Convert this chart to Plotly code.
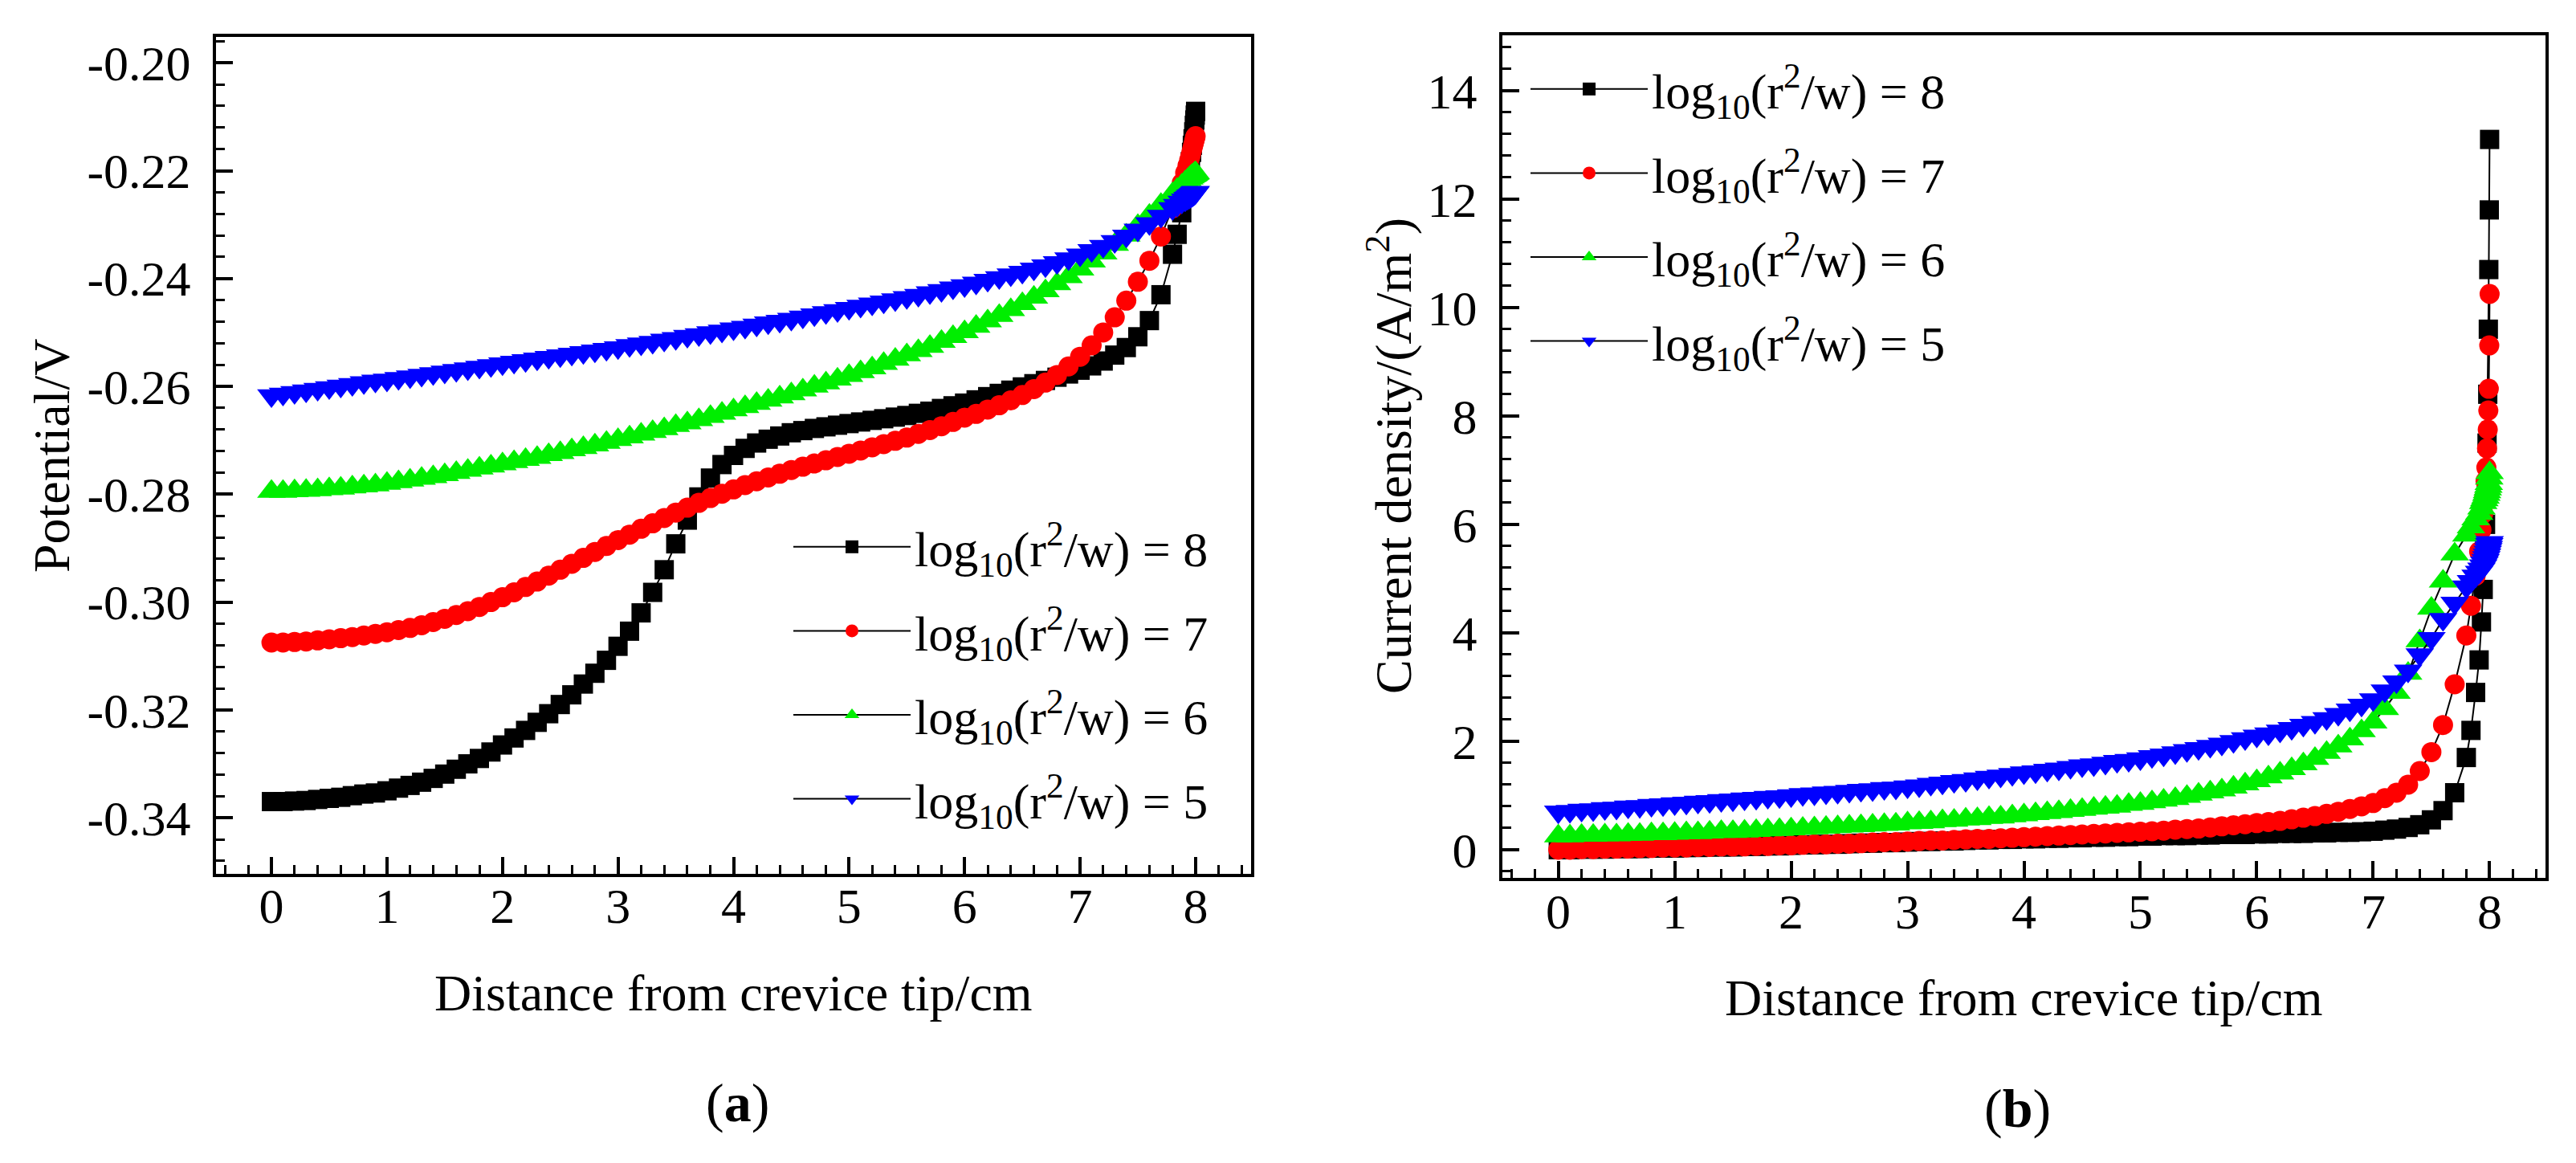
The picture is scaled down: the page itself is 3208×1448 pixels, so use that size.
import plotly.graph_objects as go

# 网格：0~7.8 每 0.1 一点，缝口附近加密
X_GRID = [
    0.0, 0.1, 0.2, 0.3, 0.4, 0.5, 0.6, 0.7, 0.8, 0.9,
    1.0, 1.1, 1.2, 1.3, 1.4, 1.5, 1.6, 1.7, 1.8, 1.9,
    2.0, 2.1, 2.2, 2.3, 2.4, 2.5, 2.6, 2.7, 2.8, 2.9,
    3.0, 3.1, 3.2, 3.3, 3.4, 3.5, 3.6, 3.7, 3.8, 3.9,
    4.0, 4.1, 4.2, 4.3, 4.4, 4.5, 4.6, 4.7, 4.8, 4.9,
    5.0, 5.1, 5.2, 5.3, 5.4, 5.5, 5.6, 5.7, 5.8, 5.9,
    6.0, 6.1, 6.2, 6.3, 6.4, 6.5, 6.6, 6.7, 6.8, 6.9,
    7.0, 7.1, 7.2, 7.3, 7.4, 7.5, 7.6, 7.7, 7.8,
    7.84, 7.88, 7.91, 7.93, 7.945, 7.955, 7.965, 7.972, 7.978, 7.984,
    7.989, 7.993, 7.997, 8.0,
]

# (a) 电位 / V
POT_8 = [
    -0.3370, -0.3370, -0.3369, -0.3368, -0.3366, -0.3364, -0.3362, -0.3359, -0.3356, -0.3354,
    -0.3350, -0.3345, -0.3340, -0.3334, -0.3327, -0.3319, -0.3310, -0.3300, -0.3290, -0.3278,
    -0.3265, -0.3252, -0.3238, -0.3223, -0.3207, -0.3190, -0.3172, -0.3152, -0.3132, -0.3108,
    -0.3082, -0.3054, -0.3020, -0.2982, -0.2940, -0.2892, -0.2848, -0.2805, -0.2770, -0.2745,
    -0.2728, -0.2715, -0.2705, -0.2698, -0.2692, -0.2686, -0.2682, -0.2678, -0.2675, -0.2672,
    -0.2669, -0.2666, -0.2663, -0.2660, -0.2657, -0.2654, -0.2650, -0.2646, -0.2641, -0.2636,
    -0.2631, -0.2625, -0.2619, -0.2613, -0.2607, -0.2601, -0.2595, -0.2589, -0.2583, -0.2577,
    -0.2570, -0.2562, -0.2553, -0.2542, -0.2528, -0.2508, -0.2478, -0.2430, -0.2355,
    -0.2318, -0.2278, -0.2245, -0.2220, -0.2198, -0.2183, -0.2166, -0.2153, -0.2141, -0.2128,
    -0.2116, -0.2106, -0.2097, -0.2090,
]
POT_7 = [
    -0.3075, -0.3075, -0.3074, -0.3073, -0.3071, -0.3069, -0.3067, -0.3065, -0.3062, -0.3059,
    -0.3056, -0.3052, -0.3048, -0.3043, -0.3037, -0.3031, -0.3024, -0.3017, -0.3009, -0.3000,
    -0.2991, -0.2982, -0.2972, -0.2962, -0.2951, -0.2940, -0.2929, -0.2918, -0.2907, -0.2896,
    -0.2885, -0.2875, -0.2864, -0.2854, -0.2844, -0.2834, -0.2825, -0.2816, -0.2807, -0.2799,
    -0.2791, -0.2783, -0.2776, -0.2769, -0.2762, -0.2755, -0.2749, -0.2743, -0.2737, -0.2731,
    -0.2725, -0.2719, -0.2713, -0.2707, -0.2701, -0.2695, -0.2688, -0.2681, -0.2674, -0.2666,
    -0.2658, -0.2651, -0.2643, -0.2635, -0.2626, -0.2616, -0.2605, -0.2593, -0.2579, -0.2563,
    -0.2545, -0.2524, -0.2500, -0.2472, -0.2441, -0.2406, -0.2367, -0.2322, -0.2270,
    -0.2247, -0.2223, -0.2204, -0.2191, -0.2180, -0.2173, -0.2165, -0.2159, -0.2154, -0.2149,
    -0.2145, -0.2141, -0.2138, -0.2136,
]
POT_6 = [
    -0.2795, -0.2795, -0.2794, -0.2793, -0.2792, -0.2790, -0.2789, -0.2787, -0.2785, -0.2783,
    -0.2780, -0.2777, -0.2774, -0.2771, -0.2768, -0.2764, -0.2760, -0.2756, -0.2752, -0.2748,
    -0.2744, -0.2740, -0.2736, -0.2732, -0.2727, -0.2723, -0.2718, -0.2714, -0.2709, -0.2704,
    -0.2699, -0.2694, -0.2689, -0.2684, -0.2679, -0.2673, -0.2668, -0.2662, -0.2656, -0.2650,
    -0.2644, -0.2638, -0.2632, -0.2626, -0.2620, -0.2614, -0.2607, -0.2600, -0.2594, -0.2587,
    -0.2580, -0.2573, -0.2566, -0.2558, -0.2550, -0.2542, -0.2534, -0.2526, -0.2517, -0.2508,
    -0.2499, -0.2489, -0.2479, -0.2469, -0.2458, -0.2447, -0.2435, -0.2423, -0.2410, -0.2397,
    -0.2383, -0.2368, -0.2353, -0.2337, -0.2320, -0.2302, -0.2283, -0.2263, -0.2243,
    -0.2235, -0.2227, -0.2221, -0.2217, -0.2214, -0.2212, -0.2210, -0.2209, -0.2208, -0.2207,
    -0.2206, -0.2205, -0.2205, -0.2204,
]
POT_5 = [
    -0.2617, -0.2614, -0.2611, -0.2608, -0.2605, -0.2602, -0.2599, -0.2596, -0.2593, -0.2590,
    -0.2588, -0.2585, -0.2582, -0.2579, -0.2576, -0.2573, -0.2570, -0.2567, -0.2564, -0.2561,
    -0.2558, -0.2555, -0.2552, -0.2549, -0.2546, -0.2543, -0.2540, -0.2537, -0.2534, -0.2531,
    -0.2528, -0.2524, -0.2521, -0.2518, -0.2514, -0.2511, -0.2507, -0.2504, -0.2500, -0.2497,
    -0.2493, -0.2490, -0.2486, -0.2482, -0.2479, -0.2475, -0.2471, -0.2467, -0.2463, -0.2459,
    -0.2455, -0.2451, -0.2447, -0.2443, -0.2439, -0.2435, -0.2431, -0.2426, -0.2422, -0.2417,
    -0.2413, -0.2408, -0.2403, -0.2398, -0.2393, -0.2388, -0.2382, -0.2376, -0.2370, -0.2363,
    -0.2356, -0.2348, -0.2340, -0.2331, -0.2321, -0.2310, -0.2298, -0.2284, -0.2270,
    -0.2264, -0.2258, -0.2254, -0.2251, -0.2249, -0.2247, -0.2246, -0.2245, -0.2244, -0.2243,
    -0.2242, -0.2241, -0.2241, -0.2240,
]

# (b) 电流密度 / (A/m2)
CUR_8 = [
    0.00, 0.00, 0.01, 0.01, 0.01, 0.02, 0.02, 0.02, 0.03, 0.03,
    0.03, 0.04, 0.04, 0.05, 0.05, 0.05, 0.06, 0.06, 0.07, 0.07,
    0.08, 0.09, 0.09, 0.10, 0.10, 0.11, 0.12, 0.12, 0.13, 0.13,
    0.14, 0.15, 0.15, 0.16, 0.16, 0.17, 0.18, 0.18, 0.19, 0.19,
    0.20, 0.20, 0.21, 0.21, 0.22, 0.22, 0.23, 0.23, 0.24, 0.24,
    0.25, 0.25, 0.26, 0.26, 0.26, 0.27, 0.27, 0.28, 0.28, 0.28,
    0.29, 0.29, 0.30, 0.30, 0.30, 0.31, 0.31, 0.32, 0.32, 0.33,
    0.34, 0.36, 0.38, 0.41, 0.46, 0.55, 0.72, 1.05, 1.70,
    2.20, 2.90, 3.50, 4.20, 4.80, 5.50, 6.00, 6.70, 7.50, 8.40,
    9.60, 10.70, 11.80, 13.10,
]
CUR_7 = [
    0.00, 0.00, 0.01, 0.01, 0.02, 0.02, 0.02, 0.03, 0.03, 0.04,
    0.04, 0.04, 0.05, 0.05, 0.06, 0.06, 0.06, 0.07, 0.07, 0.08,
    0.08, 0.09, 0.10, 0.10, 0.11, 0.11, 0.12, 0.13, 0.14, 0.14,
    0.15, 0.16, 0.17, 0.17, 0.18, 0.19, 0.20, 0.20, 0.21, 0.22,
    0.23, 0.24, 0.25, 0.26, 0.27, 0.28, 0.29, 0.30, 0.31, 0.32,
    0.33, 0.34, 0.35, 0.37, 0.38, 0.39, 0.41, 0.43, 0.45, 0.47,
    0.49, 0.51, 0.53, 0.56, 0.59, 0.62, 0.66, 0.70, 0.75, 0.80,
    0.86, 0.95, 1.05, 1.20, 1.45, 1.80, 2.30, 3.05, 3.95,
    4.50, 5.05, 5.50, 5.90, 6.20, 6.50, 6.80, 7.05, 7.40, 7.75,
    8.10, 8.50, 9.30, 10.25,
]
CUR_6 = [
    0.25, 0.25, 0.26, 0.26, 0.27, 0.27, 0.28, 0.28, 0.29, 0.29,
    0.30, 0.31, 0.31, 0.32, 0.33, 0.33, 0.34, 0.35, 0.36, 0.37,
    0.38, 0.39, 0.40, 0.41, 0.42, 0.43, 0.44, 0.45, 0.46, 0.47,
    0.49, 0.50, 0.51, 0.53, 0.54, 0.56, 0.57, 0.59, 0.60, 0.62,
    0.64, 0.66, 0.68, 0.70, 0.72, 0.74, 0.76, 0.78, 0.80, 0.83,
    0.85, 0.88, 0.91, 0.94, 0.98, 1.02, 1.06, 1.10, 1.15, 1.21,
    1.27, 1.34, 1.41, 1.49, 1.58, 1.68, 1.79, 1.91, 2.04, 2.19,
    2.35, 2.60, 2.90, 3.25, 3.85, 4.45, 4.95, 5.45, 5.80,
    5.95, 6.10, 6.20, 6.30, 6.40, 6.45, 6.50, 6.55, 6.60, 6.65,
    6.70, 6.75, 6.85, 6.95,
]
CUR_5 = [
    0.70, 0.71, 0.73, 0.74, 0.76, 0.77, 0.79, 0.80, 0.82, 0.83,
    0.85, 0.86, 0.88, 0.89, 0.91, 0.92, 0.94, 0.95, 0.97, 0.98,
    1.00, 1.02, 1.03, 1.05, 1.06, 1.08, 1.10, 1.11, 1.13, 1.14,
    1.16, 1.18, 1.21, 1.23, 1.26, 1.28, 1.31, 1.34, 1.36, 1.39,
    1.42, 1.44, 1.47, 1.49, 1.52, 1.55, 1.57, 1.60, 1.63, 1.65,
    1.68, 1.72, 1.75, 1.79, 1.83, 1.87, 1.91, 1.95, 2.00, 2.05,
    2.10, 2.14, 2.19, 2.24, 2.30, 2.35, 2.42, 2.50, 2.58, 2.67,
    2.77, 2.93, 3.10, 3.30, 3.60, 3.90, 4.25, 4.55, 4.85,
    4.95, 5.05, 5.12, 5.18, 5.24, 5.29, 5.34, 5.39, 5.44, 5.49,
    5.54, 5.58, 5.63, 5.67,
]

SERIES_LABELS = [8, 7, 6, 5]
POT_SERIES = [POT_8, POT_7, POT_6, POT_5]
CUR_SERIES = [CUR_8, CUR_7, CUR_6, CUR_5]
COLORS = ['#000000', '#ff0000', '#00ee00', '#0000ff']
SYMBOLS = ['square', 'circle', 'triangle-up', 'triangle-down']
SIZES = [24, 25, 31, 31]

X_TICKS = [0, 1, 2, 3, 4, 5, 6, 7, 8]
POT_TICKS = [-0.34, -0.32, -0.30, -0.28, -0.26, -0.24, -0.22, -0.20]
CUR_TICKS = [0, 2, 4, 6, 8, 10, 12, 14]

FONT = 'Liberation Serif'
W, H = 3208, 1448

fig = go.Figure()

for i, lab in enumerate(SERIES_LABELS):
    name = f'log<sub>10</sub>(r<sup>2</sup>/w) = {lab}'
    fig.add_trace(go.Scatter(
        x=X_GRID, y=POT_SERIES[i], mode='lines+markers', name=name,
        line=dict(color='black', width=2),
        marker=dict(symbol=SYMBOLS[i], color=COLORS[i], size=SIZES[i], line=dict(width=0)),
        xaxis='x', yaxis='y', legend='legend', legendgroup=f'a{lab}',
    ))
for i, lab in enumerate(SERIES_LABELS):
    name = f'log<sub>10</sub>(r<sup>2</sup>/w) = {lab}'
    fig.add_trace(go.Scatter(
        x=X_GRID, y=CUR_SERIES[i], mode='lines+markers', name=name,
        line=dict(color='black', width=2),
        marker=dict(symbol=SYMBOLS[i], color=COLORS[i], size=SIZES[i], line=dict(width=0)),
        xaxis='x2', yaxis='y2', legend='legend2', legendgroup=f'b{lab}',
    ))

axis_common = dict(
    showline=True, linecolor='black', linewidth=4, mirror=True,
    ticks='inside', ticklen=21, tickwidth=4, tickcolor='black',
    showgrid=False, zeroline=False,
    tickfont=dict(family=FONT, size=62, color='black'),
)
minor_x = dict(ticks='inside', ticklen=11, tickwidth=3, tickcolor='black', dtick=0.2)

fig.update_layout(
    xaxis=dict(domain=[261 / W, 1550 / W], range=[-0.48, 8.48],
               tickvals=X_TICKS, anchor='y', minor=minor_x,
               ticklabelstandoff=-17, **axis_common),
    yaxis=dict(domain=[1 - 1080 / H, 1 - 38 / H], range=[-0.3504, -0.1952],
               tickvals=POT_TICKS, ticktext=[f'{v:.2f}' for v in POT_TICKS], anchor='x',
               minor=dict(ticks='inside', ticklen=11, tickwidth=3, tickcolor='black', dtick=0.004),
               ticklabelstandoff=15, **axis_common),
    xaxis2=dict(domain=[1863 / W, 3162 / W], range=[-0.48, 8.48],
                tickvals=X_TICKS, anchor='y2', minor=minor_x,
                ticklabelstandoff=-15, **axis_common),
    yaxis2=dict(domain=[1 - 1085 / H, 1 - 36 / H], range=[-0.52, 15.02],
                tickvals=CUR_TICKS, anchor='x2',
                minor=dict(ticks='inside', ticklen=11, tickwidth=3, tickcolor='black', dtick=0.4),
                ticklabelstandoff=15, **axis_common),
    legend=dict(x=975 / W, y=1 - 626 / H, xanchor='left', yanchor='top',
                font=dict(family=FONT, size=62, color='black'),
                bgcolor='rgba(0,0,0,0)', itemwidth=146, tracegroupgap=21),
    legend2=dict(x=1893 / W, y=1 - 56 / H, xanchor='left', yanchor='top',
                 font=dict(family=FONT, size=62, color='black'),
                 bgcolor='rgba(0,0,0,0)', itemwidth=146, tracegroupgap=21),
    width=W, height=H,
    margin=dict(l=0, r=0, t=0, b=0),
    paper_bgcolor='white', plot_bgcolor='white',
    showlegend=True,
)

text_font = dict(family=FONT, size=64, color='black')
label_font = dict(family=FONT, size=68, color='black')
notes = [
    ('Distance from crevice tip/cm', 905, 1228, 0, text_font),
    ('Distance from crevice tip/cm', 2512, 1234, 0, text_font),
    ('Potential/V', 56, 559, -90, text_font),
    ('Current density/(A/m<sup>2</sup>)', 1722, 560, -90, text_font),
    ('(<b>a</b>)', 910, 1365, 0, label_font),
    ('(<b>b</b>)', 2504, 1372, 0, label_font),
]
for txt, px, py, ang, fnt in notes:
    fig.add_annotation(text=txt, x=px / W, y=1 - py / H, textangle=ang,
                       xref='paper', yref='paper', xanchor='center', yanchor='middle',
                       showarrow=False, font=fnt)

fig.write_html('out.html')
